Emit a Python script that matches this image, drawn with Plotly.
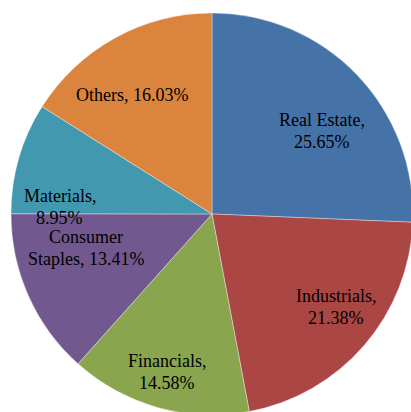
import plotly.graph_objects as go

categories = ["Real Estate", "Industrials", "Financials", "Consumer Staples", "Materials", "Others"]
values = [25.65, 21.38, 14.58, 13.41, 8.95, 16.03]
colors = ["#4572A7", "#AA4643", "#89A54E", "#71588F", "#4198AF", "#DB843D"]
# label texts split into lines as shown
label_lines = [
    ["Real Estate,", "{v}"],
    ["Industrials,", "{v}"],
    ["Financials,", "{v}"],
    ["Consumer", "Staples, {v}"],
    ["Materials,", "{v}"],
    ["Others, {v}"],
]
# label centre positions (pixels, in the page)
label_pos = [(322, 131), (336, 307), (167, 372), (86, 248), (60, 207), (132, 95)]
LINE_GAP = 22

# figure slightly larger than the window so the pie is clipped at the edges like the reference
W, H = 413, 415

fig = go.Figure(go.Pie(
    labels=categories,
    values=values,
    sort=False,
    direction="clockwise",
    rotation=0,
    marker=dict(colors=colors, line=dict(color="rgba(255,255,255,0.6)", width=0.6)),
    textinfo="none",
    hoverinfo="label+percent",
    showlegend=False,
    domain=dict(x=[11 / W, 1], y=[0, 1 - 13 / H]),
))

annotations = []
for cat, v, lines, (px, py) in zip(categories, values, label_lines, label_pos):
    vs = f"{v:.2f}%"
    n = len(lines)
    for i, ln in enumerate(lines):
        ly = py + (i - (n - 1) / 2) * LINE_GAP
        annotations.append(dict(
            x=px / W, y=1 - ly / H, xref="paper", yref="paper",
            text=ln.format(v=vs), showarrow=False, align="center",
            xanchor="center", yanchor="middle",
            font=dict(family="Times New Roman, Liberation Serif, serif", size=18, color="#000000"),
        ))

fig.update_layout(
    width=W, height=H,
    margin=dict(l=0, r=0, t=0, b=0),
    paper_bgcolor="white",
    annotations=annotations,
)

fig.write_html(
    "out.html",
    config={"displayModeBar": False},
    post_script="document.body.style.margin='0';document.body.style.overflow='hidden';",
)
